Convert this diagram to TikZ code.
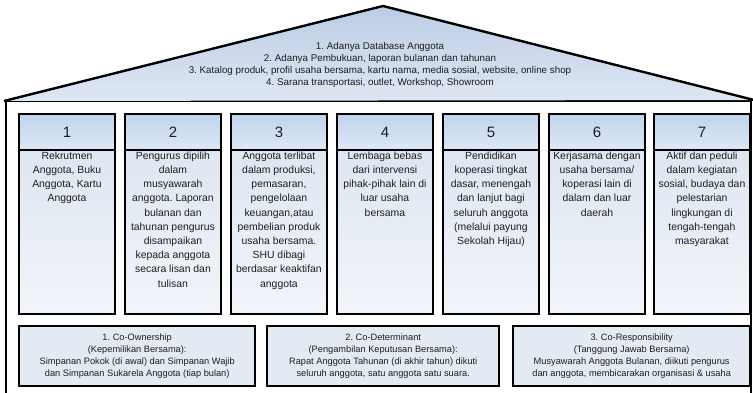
\documentclass[tikz,border=0pt]{standalone}
\usepackage{fontspec}
\setmainfont{Liberation Sans}
\frenchspacing
\definecolor{rooftop}{RGB}{188,204,229}
\definecolor{roofbot}{RGB}{222,231,243}
\definecolor{headtop}{RGB}{192,212,238}
\definecolor{headbot}{RGB}{222,232,246}
\definecolor{coltop}{RGB}{222,230,241}
\definecolor{colbot}{RGB}{242,245,250}
\definecolor{basefill}{RGB}{228,234,243}
\definecolor{txt}{RGB}{30,30,30}
\tikzset{
  heavy/.style={line width=2.4pt, draw=black},
  headbox/.style={heavy, rectangle, inner sep=0pt, minimum width=95.5pt, minimum height=36pt,
     top color=headtop, bottom color=headbot, anchor=north west, font=\fontsize{15}{18}\selectfont, text=txt},
  colbox/.style={heavy, rectangle, inner sep=0pt, minimum width=95.5pt, minimum height=164pt,
     top color=coltop, bottom color=colbot, anchor=north west},
  coltext/.style={anchor=north, inner sep=0pt, align=center, text=txt, font=\fontsize{10.4}{14.2}\selectfont},
  basebox/.style={heavy, rectangle, inner sep=0pt, minimum height=60pt, fill=basefill, anchor=north west,
     align=center, text=txt, font=\fontsize{9.25}{12.2}\selectfont},
  rooftext/.style={align=center, inner sep=0pt, text=txt, font=\fontsize{9.8}{12}\selectfont}
}
\begin{document}
\begin{tikzpicture}[x=1pt,y=-1pt]
\useasboundingbox (0,0) rectangle (753,393);
% house body
\draw[heavy] (6,395) -- (6,101) -- (751,101) -- (751,395);
% roof
\coordinate (rl) at (4,101);
\coordinate (ra) at (383,6);
\coordinate (rr) at (754,100);
\shade[top color=rooftop, bottom color=roofbot] (rl) -- (ra) -- (rr) -- cycle;
\draw[heavy, line join=miter] (rl) -- (ra) -- (rr);
\node[rooftext] (roof) at (380,65) {1. Adanya Database Anggota\\
2. Adanya Pembukuan, laporan bulanan dan tahunan\\
3. Katalog produk, profil usaha bersama, kartu nama, media sosial, website, online shop\\
4. Sarana transportasi, outlet, Workshop, Showroom};
% pillars
\foreach \i/\x/\t in {
 1/18/{Rekrutmen\\Anggota, Buku\\Anggota, Kartu\\Anggota},
 2/124/{Pengurus dipilih\\dalam\\musyawarah\\anggota. Laporan\\bulanan dan\\tahunan pengurus\\disampaikan\\kepada anggota\\secara lisan dan\\tulisan},
 3/230/{Anggota terlibat\\dalam produksi,\\pemasaran,\\pengelolaan\\keuangan,atau\\pembelian produk\\usaha bersama.\\SHU dibagi\\berdasar keaktifan\\anggota},
 4/336/{Lembaga bebas\\dari intervensi\\pihak-pihak lain di\\luar usaha\\bersama},
 5/442/{Pendidikan\\koperasi tingkat\\dasar, menengah\\dan lanjut bagi\\seluruh anggota\\(melalui payung\\Sekolah Hijau)},
 6/548/{Kerjasama dengan\\usaha bersama/\\koperasi lain di\\dalam dan luar\\daerah},
 7/653/{Aktif dan peduli\\dalam kegiatan\\sosial, budaya dan\\pelestarian\\lingkungan di\\tengah-tengah\\masyarakat}}
{
  \node[colbox] (col\i) at (\x,149) {};
  \node[headbox] (head\i) at (\x,113) {\i};
  \node[coltext] (txt\i) at ([yshift=-2.6pt]col\i.north) {\t};
}
% base boxes
\node[basebox, minimum width=236pt] (base1) at (18,325) {1. Co-Ownership\\(Kepemilikan Bersama):\\Simpanan Pokok (di awal) dan Simpanan Wajib\\dan Simpanan Sukarela Anggota (tiap bulan)};
\node[basebox, minimum width=232pt] (base2) at (266,325) {2. Co-Determinant\\(Pengambilan Keputusan Bersama):\\Rapat Anggota Tahunan (di akhir tahun) dikuti\\seluruh anggota, satu anggota satu suara.};
\node[basebox, minimum width=237pt] (base3) at (512,325) {3. Co-Responsibility\\(Tanggung Jawab Bersama)\\Musyawarah Anggota Bulanan, diikuti pengurus\\dan anggota, membicarakan organisasi \& usaha};
\end{tikzpicture}
\end{document}
